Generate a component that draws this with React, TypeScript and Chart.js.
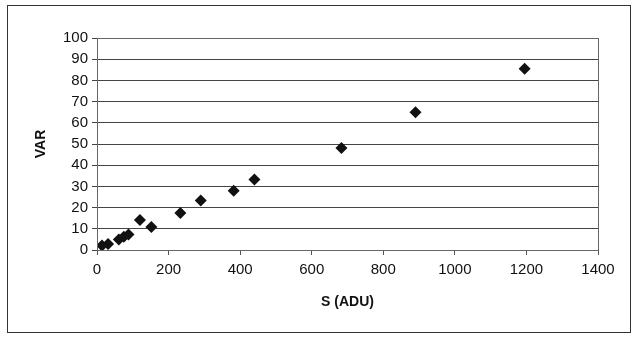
import React, { useEffect, useRef } from "react";
import { Chart, registerables } from "chart.js";

Chart.register(...registerables);

const sValues = [14, 31, 61, 75, 88, 120, 152, 233, 290, 382, 440, 683, 890, 1195];
const varValues = [2.1, 2.8, 5.0, 6.3, 7.3, 14.2, 10.8, 17.4, 23.3, 28.0, 33.2, 48.1, 65.0, 85.5];
const xTicks = [0, 200, 400, 600, 800, 1000, 1200, 1400];
const yTicks = [0, 10, 20, 30, 40, 50, 60, 70, 80, 90, 100];

const W = 637;
const H = 339;
const PLOT_LEFT = 97;
const PLOT_RIGHT = 598;
const PLOT_TOP = 38;
const PLOT_BOTTOM = 250;
const PAD_LEFT = 33;
const PAD_BOTTOM = 28;

const plotBorder = {
  id: "plotBorder",
  afterDraw(chart: any) {
    const { ctx, chartArea } = chart;
    ctx.save();
    ctx.strokeStyle = "#666";
    ctx.lineWidth = 1;
    ctx.strokeRect(
      Math.round(chartArea.left) + 0.5,
      Math.round(chartArea.top) + 0.5,
      Math.round(chartArea.right - chartArea.left),
      Math.round(chartArea.bottom - chartArea.top)
    );
    ctx.restore();
  },
};

export default function App() {
  const ref = useRef<HTMLCanvasElement>(null);
  useEffect(() => {
    document.body.style.margin = "0";
    const data = sValues.map((s, i) => ({ x: s, y: varValues[i] }));
    const font = { family: "'Liberation Sans', Arial, sans-serif", size: 15 };
    const chart = new Chart(ref.current!, {
      type: "scatter",
      data: {
        datasets: [
          {
            data,
            pointStyle: "rectRot",
            pointRadius: 6,
            backgroundColor: "#111",
            borderColor: "#111",
            borderWidth: 0,
          },
        ],
      },
      options: {
        animation: false,
        responsive: false,
        events: [],
        layout: {
          padding: {
            left: PAD_LEFT,
            top: PLOT_TOP,
            right: W - PLOT_RIGHT,
            bottom: PAD_BOTTOM,
          },
        },
        plugins: { legend: { display: false }, tooltip: { enabled: false } },
        scales: {
          x: {
            type: "linear",
            min: 0,
            max: 1400,
            afterBuildTicks: (s: any) => {
              s.ticks = xTicks.map((v) => ({ value: v }));
            },
            afterFit: (s: any) => {
              s.height = H - PLOT_BOTTOM - PAD_BOTTOM;
            },
            border: { display: false },
            grid: {
              drawOnChartArea: false,
              drawTicks: true,
              tickLength: 5,
              color: "#555",
            },
            ticks: {
              color: "#111",
              font,
              padding: 6,
              maxRotation: 0,
              callback: (v: any) => String(v),
            },
            title: {
              display: true,
              text: "S (ADU)",
              color: "#111",
              font: { ...font, size: 14, weight: "bold" },
              padding: { top: 10, bottom: 0 },
            },
          },
          y: {
            type: "linear",
            min: 0,
            max: 100,
            afterBuildTicks: (s: any) => {
              s.ticks = yTicks.map((v) => ({ value: v }));
            },
            afterFit: (s: any) => {
              s.width = PLOT_LEFT - PAD_LEFT;
            },
            border: { display: false },
            grid: {
              drawTicks: true,
              tickLength: 5,
              color: "#444",
              lineWidth: 1,
            },
            ticks: { color: "#111", font, padding: 4, callback: (v: any) => String(v) },
            title: {
              display: true,
              text: "VAR",
              color: "#111",
              font: { ...font, size: 14, weight: "bold" },
              padding: { top: 0, bottom: 0 },
            },
          },
        },
      },
      plugins: [plotBorder],
    });
    return () => chart.destroy();
  }, []);
  return (
    <div style={{ position: "relative", width: W, height: H, background: "#fff" }}>
      <canvas ref={ref} width={W} height={H} style={{ display: "block" }} />
      <div
        style={{
          position: "absolute",
          left: 7,
          top: 5,
          width: 624,
          height: 328,
          border: "1px solid #333",
          boxSizing: "border-box",
          pointerEvents: "none",
        }}
      />
    </div>
  );
}
